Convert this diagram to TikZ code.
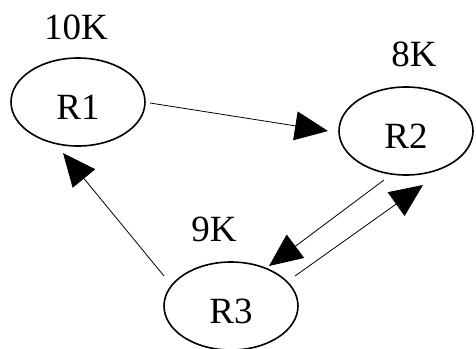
\documentclass[tikz,border=0pt]{standalone}
\usepackage{fontspec}
\setmainfont{Liberation Serif}
\usetikzlibrary{shapes.geometric,arrows.meta,calc}
\tikzset{
  rnode/.style={ellipse,draw,line width=1.6pt,minimum width=134pt,minimum height=88pt,inner sep=0pt,
    font=\fontsize{37}{42}\selectfont,text height=35.5pt,text depth=0pt},
  wlabel/.style={anchor=base,inner sep=0pt,font=\fontsize{37}{42}\selectfont},
  conn/.style={line width=0.8pt,-{Triangle[length=33pt,width=29pt]}}
}
\begin{document}
\begin{tikzpicture}[x=1pt,y=-1pt]
\useasboundingbox (0,0) rectangle (476,348);
\node[rnode] (r1) at (78,102) {R1};
\node[rnode] (r2) at (406,131) {R2};
\node[rnode] (r3) at (231,306) {R3};
\node[wlabel] (l1) at (76,39) {10K};
\node[wlabel] (l2) at (414,66) {8K};
\node[wlabel] (l3) at (214,241) {9K};
\draw[conn] ($(r1.center)+(72,1)$) -- ($(r2.center)+(-78,0)$);
\draw[conn] ($(r3.center)+(-67,-30)$) -- ($(r1.center)+(-15,51)$);
\draw[conn] ($(r2.center)+(-22,49)$) -- ($(r3.center)+(38,-40)$);
\draw[conn] ($(r3.center)+(64,-30)$) -- ($(r2.center)+(17,54)$);
\end{tikzpicture}
\end{document}
